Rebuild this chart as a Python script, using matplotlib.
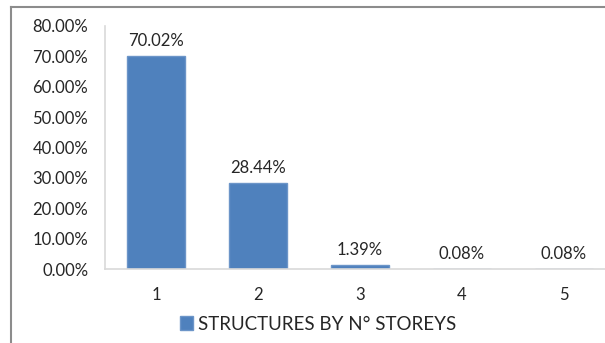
import matplotlib
matplotlib.use("Agg")
import matplotlib.pyplot as plt
from matplotlib.lines import Line2D
from matplotlib.ticker import FuncFormatter

storeys = ["1", "2", "3", "4", "5"]
share_pct = [70.02, 28.44, 1.39, 0.08, 0.08]
y_ticks = [0, 10, 20, 30, 40, 50, 60, 70, 80]
series_name = "STRUCTURES BY N° STOREYS"

plt.rcParams["font.family"] = ["Lato", "DejaVu Sans"]
text_color = "#262626"
bar_color = "#4F81BD"

fig = plt.figure(figsize=(6.05, 3.43), dpi=100)
# plot area runs a little past the right edge of the canvas
ax = fig.add_axes([105 / 605, 1 - 269.3 / 343, 509.5 / 605, 243.6 / 343])

x = list(range(len(storeys)))
bars = ax.bar(x, share_pct, width=0.57, color=bar_color, edgecolor="#6C95C8",
              linewidth=1.0, label=series_name, zorder=2)

for rect, v in zip(bars, share_pct):
    ax.annotate(f"{v:.2f}%", (rect.get_x() + rect.get_width() / 2, v),
                xytext=(0, 5), textcoords="offset points",
                ha="center", va="bottom", fontsize=12, color=text_color)

ax.set_xlim(-0.5, len(storeys) - 0.5)
ax.set_ylim(0, 80)
ax.set_xticks(x)
ax.set_xticklabels(storeys)
ax.set_yticks(y_ticks)
ax.yaxis.set_major_formatter(FuncFormatter(lambda v, _: f"{v:.2f}%"))
ax.tick_params(axis="both", length=0, labelsize=12, colors=text_color)
ax.tick_params(axis="y", pad=12)
ax.tick_params(axis="x", pad=13)

for side in ("top", "right"):
    ax.spines[side].set_visible(False)
for side in ("left", "bottom"):
    ax.spines[side].set_color("#D9D9D9")
    ax.spines[side].set_linewidth(1.2)

fig.legend(loc="center", bbox_to_anchor=(318 / 605, 1 - 324 / 343),
           frameon=False, fontsize=13.5, handlelength=0.7, handleheight=0.7,
           handletextpad=0.3, labelcolor=text_color)

# chart frame (only top and left edges fall inside the canvas)
fig.add_artist(Line2D([10.5 / 605, 10.5 / 605], [0, 1 - 6.5 / 343],
                      transform=fig.transFigure, color="#8C8C8C", lw=1.5))
fig.add_artist(Line2D([10.5 / 605, 1], [1 - 6.5 / 343, 1 - 6.5 / 343],
                      transform=fig.transFigure, color="#8C8C8C", lw=1.5))

fig.savefig("out.png", dpi=100)
